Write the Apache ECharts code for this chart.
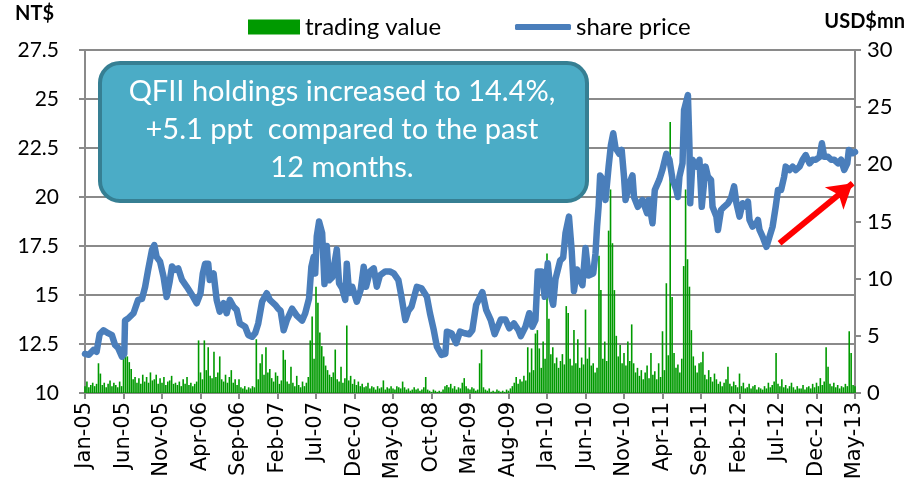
<!DOCTYPE html>
<html>
<head>
<meta charset="utf-8">
<script src="https://cdn.jsdelivr.net/npm/echarts@6/dist/echarts.min.js"></script>
<style>
html,body{margin:0;padding:0;background:#fff;}
#chart{width:910px;height:492px;}
</style>
</head>
<body>
<div id="chart"></div>
<script>
// x tick labels every 5 months (x value = months since Jan-05)
const xTickLabels = ['Jan-05','Jun-05','Nov-05','Apr-06','Sep-06','Feb-07','Jul-07','Dec-07','May-08','Oct-08','Mar-09','Aug-09','Jan-10','Jun-10','Nov-10','Apr-11','Sep-11','Feb-12','Jul-12','Dec-12','May-13'];

// share price (NT$): [months since Jan-05, price]
const sharePrice = [
[0,12.0],[0.5,11.95],[1.1,12.2],[1.5,12.1],[1.9,13.0],[2.4,13.2],[3.0,13.05],[3.5,12.95],[3.9,12.45],[4.3,12.3],
[4.8,11.85],[5.1,12.0],[5.2,13.7],[5.6,13.8],[6.3,14.07],[6.9,14.75],[7.4,14.8],[7.8,15.4],[8.2,16.28],[8.7,17.3],
[9.0,17.55],[9.3,16.95],[9.75,16.7],[10.2,15.93],[10.6,14.9],[11.0,15.7],[11.3,16.45],[11.7,16.28],[12.1,16.36],[12.6,15.77],
[13.2,15.43],[13.9,15.0],[14.5,14.58],[15.0,15.09],[15.3,16.1],[15.6,16.6],[16.0,16.6],[16.2,15.77],[16.7,16.1],[17.1,14.75],
[17.5,14.15],[18.0,14.58],[18.4,14.07],[18.8,14.75],[19.3,14.4],[19.7,14.24],[20.1,13.55],[20.8,13.38],[21.2,12.96],[21.7,12.87],
[22.1,13.05],[22.5,13.55],[23.0,14.66],[23.6,15.09],[24.0,14.75],[24.7,14.5],[25.1,14.3],[25.4,14.2],[25.8,13.2],[26.2,13.7],
[26.9,14.3],[27.5,13.95],[28.2,13.7],[28.6,14.07],[29.1,14.83],[29.4,16.44],[29.7,16.95],[29.9,16.1],[30.1,18.0],[30.4,18.75],
[30.8,18.16],[31.1,15.56],[31.4,17.5],[31.7,15.75],[32.1,15.9],[32.7,17.33],[33.0,15.6],[33.4,15.34],[33.8,14.75],[34.0,16.6],
[34.3,15.1],[34.7,15.42],[35.3,14.66],[35.8,15.26],[36.2,16.44],[36.5,15.42],[37.0,16.2],[37.5,16.36],[37.9,15.42],[38.3,16.0],
[39.0,16.2],[39.6,16.2],[40.1,16.1],[40.7,15.76],[41.1,14.91],[41.6,13.72],[42.0,14.2],[42.4,14.4],[43.1,15.42],[43.7,15.34],
[44.4,14.91],[44.8,14.07],[45.3,13.2],[45.7,12.36],[46.3,11.94],[46.8,12.0],[47.0,13.13],[47.6,13.05],[48.2,12.54],[48.7,13.13],
[49.3,13.05],[49.9,13.0],[50.3,13.2],[50.8,14.5],[51.6,15.15],[52.1,14.24],[52.7,13.72],[53.2,13.0],[54.0,13.75],[54.6,13.75],
[55.1,13.3],[55.7,13.55],[56.3,13.2],[56.6,12.9],[57.2,13.38],[57.7,14.07],[58.1,13.38],[58.5,13.72],[58.8,16.2],[59.3,16.2],
[59.7,14.91],[60.1,16.62],[60.5,15.0],[60.8,14.5],[61.1,15.8],[61.7,16.75],[62.1,16.9],[62.4,18.15],[62.85,19.0],[63.2,17.3],
[63.5,15.2],[63.9,16.3],[64.1,15.94],[64.6,15.5],[65.0,17.4],[65.4,16.0],[66.0,16.1],[66.3,17.13],[66.5,18.48],[66.7,19.5],
[66.9,21.1],[67.4,20.8],[67.6,19.85],[68.0,21.55],[68.3,22.65],[68.6,23.25],[68.9,22.5],[69.4,22.2],[69.7,22.4],[70.0,21.04],
[70.2,19.85],[70.7,20.7],[71.1,21.1],[71.3,20.0],[71.8,19.5],[72.4,19.85],[73.0,19.17],[73.2,19.85],[73.7,18.66],[74.0,20.36],
[74.6,20.9],[75.0,21.4],[75.5,22.2],[75.9,21.9],[76.3,20.9],[76.8,20.36],[77.0,20.0],[77.2,21.04],[77.6,21.72],[77.8,24.44],
[78.3,25.2],[78.5,22.57],[78.6,19.68],[78.9,21.9],[79.4,21.55],[79.8,21.9],[80.1,19.5],[80.6,21.55],[80.9,21.04],[81.3,20.87],
[81.5,19.5],[82.0,19.0],[82.2,18.32],[82.6,19.34],[83.0,19.5],[83.5,19.68],[83.9,19.94],[84.3,20.54],[84.6,19.68],[85.0,19.0],
[85.4,19.68],[85.9,19.5],[86.1,19.76],[86.3,18.83],[86.7,18.49],[87.2,18.66],[87.4,18.83],[87.6,18.32],[88.0,17.98],[88.5,17.46],
[88.9,17.98],[89.3,18.49],[89.7,19.5],[90.0,20.36],[90.4,20.36],[90.8,21.04],[91.0,21.55],[91.5,21.38],[91.9,21.55],[92.3,21.38],
[92.8,21.55],[93.2,21.9],[93.6,22.14],[94.1,21.72],[94.5,21.9],[94.9,21.9],[95.4,22.05],[95.7,22.74],[96.0,22.05],[96.5,22.05],
[96.9,21.9],[97.3,21.9],[97.8,21.72],[98.2,21.9],[98.6,21.38],[99.0,21.72],[99.2,22.4],[99.7,22.23],[100.0,22.3]
];

// trading value (USD$mn), four readings per month from Jan-05 to May-13
const tradingValue = [
0.6,1.0,0.5,0.7, 0.9,0.6,0.8,2.6, 1.7,0.7,0.9,0.5, 0.8,1.1,0.6,0.9, 0.7,0.5,1.0,0.6,
4.0,3.5,3.2,2.7, 2.1,1.2,1.4,0.9, 1.3,0.8,1.6,1.0, 1.4,0.9,1.8,1.1, 1.2,1.6,0.8,1.3,
0.9,1.4,0.7,1.0, 1.1,1.5,0.8,0.9, 0.7,1.0,0.6,1.2, 0.8,1.4,0.7,0.9, 0.6,0.8,1.0,4.6,
1.8,1.2,4.6,2.0, 4.0,1.5,1.3,3.6, 1.4,1.8,3.2,1.2, 1.0,1.6,0.9,1.4, 2.0,0.9,1.2,0.7,
1.2,0.5,0.4,0.6, 0.3,0.5,0.4,0.6, 0.5,4.7,1.2,2.6, 3.4,1.6,4.0,1.8, 2.1,1.3,1.0,1.8,
1.5,0.8,1.1,3.75, 2.9,1.0,0.8,2.3, 0.9,0.6,1.5,0.7, 0.5,1.0,0.6,0.9, 1.4,4.6,6.7,3.0,
9.3,7.9,5.3,4.1, 3.2,2.4,2.0,1.6, 1.4,1.8,3.8,1.2, 1.0,2.3,0.9,1.3, 5.9,1.1,1.5,0.8,
1.2,0.7,1.0,0.6, 0.8,0.5,0.6,0.9, 0.4,0.6,0.5,0.3, 0.6,0.4,0.5,1.1, 0.3,0.5,0.4,0.6,
0.4,0.3,0.6,0.5, 0.4,1.0,0.5,0.3, 0.4,0.2,0.3,0.5, 0.3,0.4,0.2,0.3, 0.5,1.4,0.3,0.2,
0.1,0.3,0.2,0.1, 0.2,0.1,0.3,0.6, 0.7,0.5,0.8,0.4, 0.6,0.3,0.5,0.4, 0.9,1.3,0.6,0.4,
0.3,0.5,0.4,0.2, 0.3,2.6,3.8,0.5, 0.3,0.2,0.4,0.1, 0.2,0.1,0.3,0.2, 0.1,0.2,0.1,0.3,
0.2,0.4,0.6,0.9, 1.4,0.8,1.2,1.0, 1.5,1.1,4.0,1.8, 3.9,2.0,5.2,5.5, 3.9,2.2,4.5,3.0,
12.2,6.5,3.4,4.0, 2.6,3.1,2.2,2.8, 3.4,2.5,7.6,7.0, 3.0,2.4,5.5,2.6, 4.7,2.2,3.1,2.5,
7.3,3.0,4.0,2.4, 2.6,1.8,2.2,12.0, 9.0,3.0,4.5,2.8, 14.2,17.8,13.1,9.0, 5.0,3.2,4.2,2.6,
3.5,2.4,4.5,2.8, 6.0,2.6,1.8,2.2, 1.5,2.0,1.2,1.8, 2.4,1.3,3.5,1.6, 1.9,1.2,2.6,1.4,
5.4,2.0,9.6,3.3, 23.7,8.4,3.5,2.2, 2.5,1.8,3.0,11.1, 17.8,11.7,9.3,5.5, 3.2,2.4,1.8,2.6,
2.7,3.6,1.6,1.2, 2.0,1.4,1.0,1.7, 1.2,0.8,1.0,0.6, 0.9,1.2,2.3,0.8, 0.6,1.0,0.7,0.5,
1.7,0.6,0.9,0.4, 0.5,0.8,0.4,0.6, 0.7,0.3,0.5,0.4, 0.3,0.6,0.4,0.9, 0.5,0.7,1.0,3.5,
0.8,0.6,1.2,0.5, 0.7,0.4,0.6,0.9, 0.5,0.3,0.6,0.4, 0.4,0.7,0.3,0.5, 0.6,0.4,0.8,0.5,
0.9,0.6,1.3,0.7, 1.0,4.0,2.3,0.8, 0.6,0.9,0.5,0.7, 0.4,0.6,0.5,0.8, 0.6,5.4,3.5,0.7,
0.6
];

// red trend arrow (data coordinates: month, NT$)
const arrowFrom = [90.2, 17.64];
const arrowTo = [99.7, 20.7];

const noteLines = ['QFII holdings increased to 14.4%,', '+5.1 ppt  compared to the past', '12 months.'];

const GRAY = '#8a8a8a';
const FONT = 'Lato';

const chart = echarts.init(document.getElementById('chart'), null, {renderer: 'canvas'});
chart.setOption({
  animation: false,
  backgroundColor: '#ffffff',
  grid: {left: 85, right: 55, top: 50, bottom: 99, containLabel: false},
  legend: [
    {data: [{name: 'trading value', icon: 'rect'}], left: 243, top: 10, itemWidth: 52, itemHeight: 15,
     textStyle: {fontFamily: FONT, fontSize: 24, color: '#000'}, selectedMode: false},
    {data: [{name: 'share price', icon: 'roundRect'}], left: 510, top: 10, itemWidth: 56, itemHeight: 6,
     textStyle: {fontFamily: FONT, fontSize: 24, color: '#000'}, selectedMode: false}
  ],
  xAxis: {
    type: 'value', min: 0, max: 100, interval: 5,
    axisLine: {show: true, onZero: false, lineStyle: {color: GRAY, width: 2}},
    axisTick: {show: true, length: 6, lineStyle: {color: GRAY, width: 2}},
    splitLine: {show: false},
    axisLabel: {
      rotate: 90, margin: 9, fontFamily: 'DejaVu Sans', fontSize: 21, color: '#000',
      formatter: v => xTickLabels[Math.round(v / 5)]
    }
  },
  yAxis: [
    {
      type: 'value', min: 10, max: 27.5, interval: 2.5, position: 'left',
      axisLine: {show: true, lineStyle: {color: GRAY, width: 2}},
      axisTick: {show: true, length: 6, lineStyle: {color: GRAY, width: 2}},
      splitLine: {show: true, lineStyle: {color: GRAY, width: 2}},
      axisLabel: {fontFamily: FONT, fontSize: 21, color: '#000', margin: 26}
    },
    {
      type: 'value', min: 0, max: 30, interval: 5, position: 'right',
      axisLine: {show: true, lineStyle: {color: GRAY, width: 2}},
      axisTick: {show: true, length: 6, lineStyle: {color: GRAY, width: 2}},
      splitLine: {show: false},
      axisLabel: {fontFamily: FONT, fontSize: 22, color: '#000', margin: 12}
    }
  ],
  series: [
    {
      name: 'trading value', type: 'bar', yAxisIndex: 1, barWidth: 1.6,
      itemStyle: {color: '#009a00'},
      data: tradingValue.map((v, i) => [i / 4, v]),
      z: 2
    },
    {
      name: 'share price', type: 'line', yAxisIndex: 0, showSymbol: false, symbol: 'none',
      lineStyle: {color: '#4a7ebb', width: 6.5, cap: 'round', join: 'round'},
      itemStyle: {color: '#4a7ebb'},
      data: sharePrice,
      z: 3,
      markLine: {
        silent: true, animation: false,
        symbol: ['none', 'arrow'], symbolSize: [22, 24],
        label: {show: false},
        lineStyle: {color: '#ff0000', width: 6, type: 'solid'},
        data: [[{coord: arrowFrom}, {coord: arrowTo}]]
      }
    }
  ],
  graphic: [
    {type: 'text', left: 15, top: 4, z: 100, style: {text: 'NT$', font: 'bold 20px Lato', fill: '#000'}},
    {type: 'text', right: 5, top: 12, z: 100, style: {text: 'USD$mn', font: 'bold 20px Lato', fill: '#000'}},
    {type: 'rect', left: 98, top: 61, z: 100,
     shape: {width: 487, height: 138, r: 20},
     style: {fill: '#4bacc6', stroke: '#367f93', lineWidth: 4}},
    {type: 'text', z: 101, x: 342, y: 130,
     style: {text: noteLines.join('\n'), font: '29px Lato', fill: '#ffffff', align: 'center',
             verticalAlign: 'middle', lineHeight: 38}}
  ]
});
</script>
</body>
</html>
